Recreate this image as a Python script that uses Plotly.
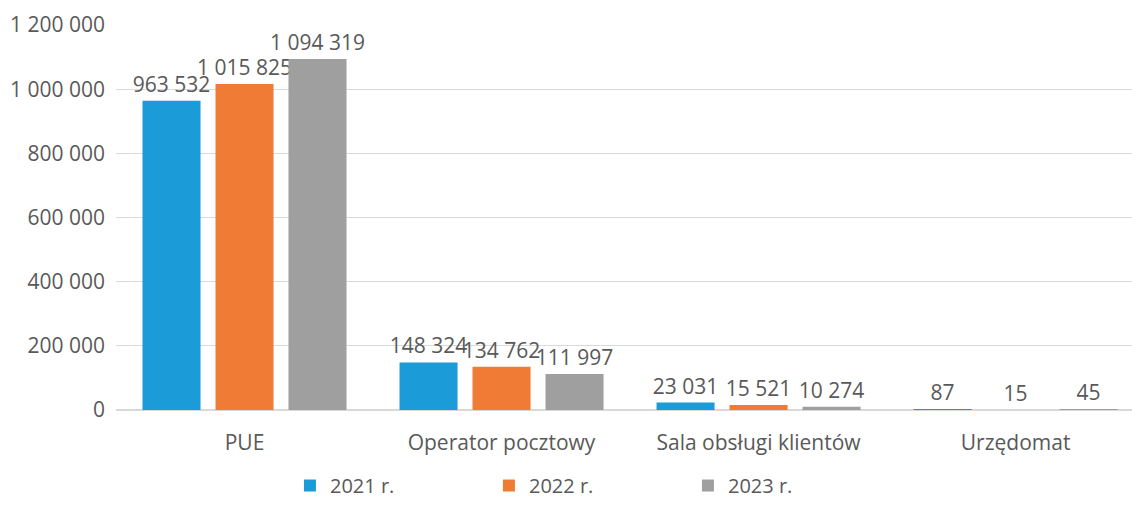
import plotly.graph_objects as go

categories = ["PUE", "Operator pocztowy", "Sala obsługi klientów", "Urzędomat"]
series_names = ["2021 r.", "2022 r.", "2023 r."]
values_2021 = [963532, 148324, 23031, 87]
values_2022 = [1015825, 134762, 15521, 15]
values_2023 = [1094319, 111997, 10274, 45]
colors = ["#1b9cd9", "#f07b35", "#9f9f9f"]
y_ticks = [0, 200000, 400000, 600000, 800000, 1000000, 1200000]

FONT = "Open Sans"
TXT = "#595959"

fig = go.Figure()
for name, vals, col in zip(series_names, [values_2021, values_2022, values_2023], colors):
    fig.add_trace(go.Bar(
        x=categories, y=vals, name=name, marker_color=col,
        marker_line_width=0,
        text=vals, texttemplate="%{y:,}", textposition="outside",
        textangle=0, constraintext="none",
        textfont=dict(family=FONT, size=21, color=TXT),
        cliponaxis=False,
    ))

fig.update_layout(
    width=1132, height=505,
    margin=dict(l=116, r=0, t=25, b=95, autoexpand=False),
    paper_bgcolor="white", plot_bgcolor="white",
    separators=", ",
    barmode="group", bargap=0.148, bargroupgap=0.205,
    font=dict(family=FONT, size=21, color=TXT),
    xaxis=dict(range=[-0.5, 3.453], showgrid=False, showline=False,
               ticks="", tickangle=0, automargin=False, ticklabelstandoff=18,
               tickfont=dict(size=21, color=TXT)),
    yaxis=dict(range=[0, 1200000], tickvals=y_ticks, tickformat=",",
               showgrid=True, gridcolor="#d9d9d9", gridwidth=1,
               zeroline=True, zerolinecolor="#d9d9d9", zerolinewidth=1.5,
               ticks="", ticklabelstandoff=10, automargin=False,
               tickfont=dict(size=21, color=TXT)),
    legend=dict(orientation="h", x=0.465, xanchor="center",
                y=-0.2468, yanchor="bottom", entrywidth=154,
                font=dict(size=20, color=TXT)),
    showlegend=True,
)

fig.write_html("out.html", config={"displayModeBar": False},
               post_script="document.body.style.margin='0';document.body.style.padding='0';")
